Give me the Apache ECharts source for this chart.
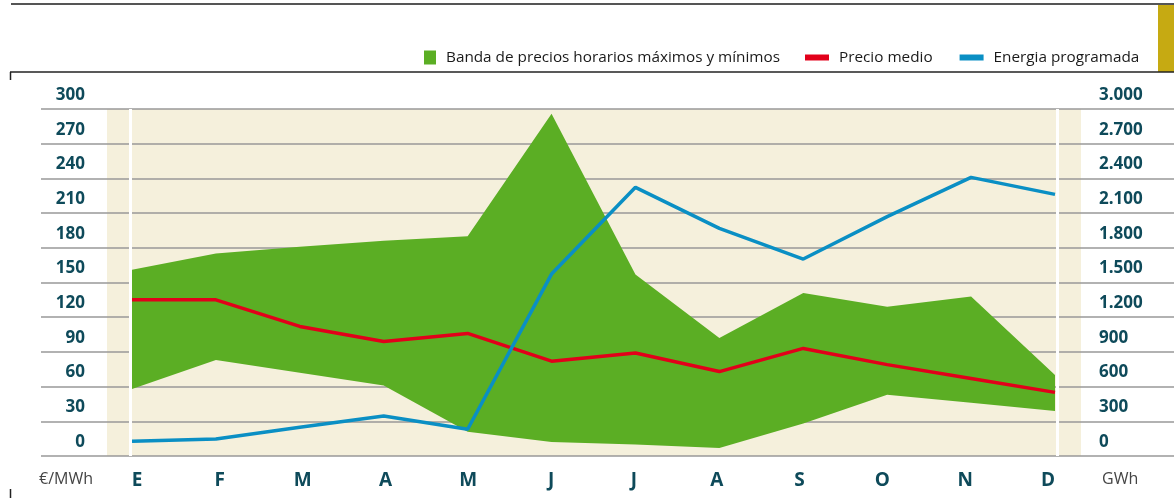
<!DOCTYPE html>
<html>
<head>
<meta charset="utf-8">
<script src="https://cdn.jsdelivr.net/npm/echarts@6/dist/echarts.min.js"></script>
<style>
  html, body { margin: 0; padding: 0; background: #fff; }
  #chart { width: 1174px; height: 498px; }
</style>
</head>
<body>
<div id="chart"></div>
<script>
// meses
const months = ['E', 'F', 'M', 'A', 'M', 'J', 'J', 'A', 'S', 'O', 'N', 'D']
// banda de precios (€/MWh)
const priceMax = [161, 175, 181, 186, 190, 296, 157, 102, 141, 129, 138, 70]
const priceMin = [58, 83, 72, 61, 21, 12, 10, 7, 28, 53, 46, 39]
// precio medio (€/MWh)
const priceAvg = [135, 135, 112, 99, 106, 82, 89, 73, 93, 79, 67, 55]
// energía programada (GWh)
const energy = [127, 147, 248, 346, 231, 1573, 2323, 1968, 1703, 2069, 2409, 2262]
// ticks
const priceTicks = { min: 0, max: 300, step: 30 }
const energyTicks = { min: 0, max: 3000, step: 300 }

const FONT = 'Open Sans'
const TEAL = '#0e4a5a'

const bandName = 'Banda de precios horarios máximos y mínimos'
const bandSpread = priceMax.map((v, i) => v - priceMin[i])

function fmtThousands(v) {
  return String(v).replace(/\B(?=(\d{3})+(?!\d))/g, '.')
}

const chart = echarts.init(document.getElementById('chart'))

const option = {
  animation: false,
  backgroundColor: '#fff',
  textStyle: { fontFamily: FONT },
  legend: [
    {
      data: [{ name: bandName, icon: 'rect', itemStyle: { color: '#5bae24' } }],
      left: 424,
      top: 50,
      padding: 0,
      itemWidth: 12,
      itemHeight: 14,
      selectedMode: false,
      textStyle: { fontFamily: FONT, fontSize: 15.3, color: '#1a1a1a', padding: [0, 0, 0, 5] },
    },
    {
      data: [
        { name: 'Precio medio', icon: 'rect' },
        { name: 'Energia programada', icon: 'rect' },
      ],
      left: 805,
      top: 50,
      padding: 0,
      itemWidth: 24,
      itemHeight: 6,
      itemGap: 27,
      selectedMode: false,
      textStyle: { fontFamily: FONT, fontSize: 15.3, color: '#1a1a1a', padding: [0, 0, 0, 5] },
    },
  ],
  grid: [
    // fondo crema
    { left: 107, right: 93, top: 109, bottom: 42, show: true, backgroundColor: '#f5f0dc', borderWidth: 0 },
    // líneas y etiquetas de ejes
    { left: 41, right: 0, top: 109, bottom: 42 },
    // etiquetas de meses
    { left: 137, right: 126, top: 109, bottom: 42 },
    // franjas blancas verticales
    { left: 130, right: 117, top: 109, bottom: 42 },
    // datos
    { left: 132, right: 119, top: 109, bottom: 42 },
  ],
  xAxis: [
    { gridIndex: 0, type: 'category', data: months, show: false },
    { gridIndex: 1, type: 'category', data: months, show: false },
    {
      gridIndex: 2,
      type: 'category',
      data: months,
      boundaryGap: false,
      axisLine: { show: false },
      axisTick: { show: false },
      splitLine: { show: false },
      axisLabel: {
        interval: 0,
        margin: 15,
        fontFamily: FONT,
        fontSize: 19,
        fontWeight: 'bold',
        color: TEAL,
      },
    },
    {
      gridIndex: 3,
      type: 'category',
      data: months,
      boundaryGap: false,
      z: 1,
      axisLine: { show: false },
      axisTick: { show: false },
      axisLabel: { show: false },
      splitLine: {
        show: true,
        interval: (idx) => idx === 0 || idx === months.length - 1,
        lineStyle: { color: '#ffffff', width: 3 },
      },
    },
    {
      gridIndex: 4,
      type: 'category',
      data: months,
      boundaryGap: false,
      axisLine: { show: false },
      axisTick: { show: false },
      axisLabel: { show: false },
      splitLine: { show: false },
    },
  ],
  yAxis: [
    { gridIndex: 0, type: 'value', show: false },
    {
      gridIndex: 1,
      type: 'value',
      min: priceTicks.min,
      max: priceTicks.max,
      interval: priceTicks.step,
      axisLine: { show: false },
      axisTick: { show: false },
      splitLine: { show: true, lineStyle: { color: '#999999', width: 1.5 } },
      axisLabel: {
        inside: true,
        margin: 44,
        align: 'right',
        verticalAlign: 'bottom',
        lineHeight: 28,
        fontFamily: FONT,
        fontSize: 17,
        fontWeight: 'bold',
        color: TEAL,
      },
    },
    {
      gridIndex: 1,
      type: 'value',
      position: 'right',
      min: energyTicks.min,
      max: energyTicks.max,
      interval: energyTicks.step,
      axisLine: { show: false },
      axisTick: { show: false },
      splitLine: { show: false },
      axisLabel: {
        inside: true,
        margin: 75,
        align: 'left',
        verticalAlign: 'bottom',
        lineHeight: 28,
        fontFamily: FONT,
        fontSize: 17,
        fontWeight: 'bold',
        color: TEAL,
        formatter: fmtThousands,
      },
    },
    { gridIndex: 2, type: 'value', show: false },
    { gridIndex: 3, type: 'value', show: false },
    { gridIndex: 4, type: 'value', min: priceTicks.min, max: priceTicks.max, show: false },
    { gridIndex: 4, type: 'value', min: energyTicks.min, max: energyTicks.max, show: false },
  ],
  series: [
    {
      name: 'min',
      type: 'line',
      xAxisIndex: 4,
      yAxisIndex: 5,
      stack: 'band',
      symbol: 'none',
      silent: true,
      lineStyle: { opacity: 0 },
      data: priceMin,
    },
    {
      name: bandName,
      type: 'line',
      xAxisIndex: 4,
      yAxisIndex: 5,
      stack: 'band',
      symbol: 'none',
      silent: true,
      color: '#5bae24',
      lineStyle: { width: 0 },
      areaStyle: { color: '#5bae24', opacity: 1 },
      data: bandSpread,
    },
    {
      name: 'Precio medio',
      type: 'line',
      xAxisIndex: 4,
      yAxisIndex: 5,
      symbol: 'none',
      color: '#e2001a',
      lineStyle: { color: '#e2001a', width: 3.5 },
      data: priceAvg,
    },
    {
      name: 'Energia programada',
      type: 'line',
      xAxisIndex: 4,
      yAxisIndex: 6,
      symbol: 'none',
      color: '#0a8fc4',
      lineStyle: { color: '#0a8fc4', width: 3.5 },
      data: energy,
    },
  ],
  graphic: [
    // filete superior
    { type: 'line', shape: { x1: 11, y1: 4, x2: 1174, y2: 4 }, style: { stroke: '#555', lineWidth: 2 } },
    { type: 'rect', shape: { x: 1158, y: 5, width: 16, height: 67 }, style: { fill: '#c6aa12' } },
    { type: 'line', shape: { x1: 10, y1: 72, x2: 1174, y2: 72 }, style: { stroke: '#222', lineWidth: 1.5 } },
    { type: 'line', shape: { x1: 10.5, y1: 72, x2: 10.5, y2: 80 }, style: { stroke: '#222', lineWidth: 1.5 } },
    { type: 'line', shape: { x1: 10.5, y1: 489, x2: 10.5, y2: 498 }, style: { stroke: '#222', lineWidth: 1.5 } },
    // unidades
    {
      type: 'text',
      left: 39,
      top: 471,
      style: { text: '€/MWh', fontFamily: FONT, fontSize: 16, fill: '#444' },
    },
    {
      type: 'text',
      left: 1102,
      top: 471,
      style: { text: 'GWh', fontFamily: FONT, fontSize: 16, fill: '#444' },
    },
  ],
}

chart.setOption(option)
window.addEventListener('resize', () => {
  chart.resize()
})
</script>
</body>
</html>
